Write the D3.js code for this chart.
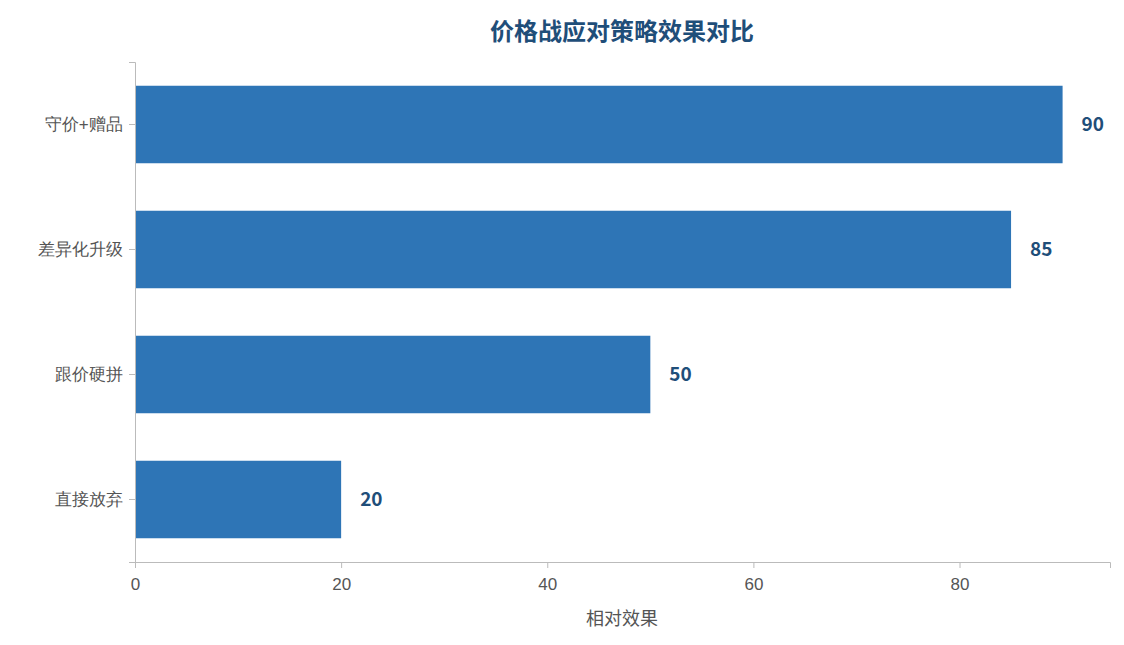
<!DOCTYPE html>
<html><head><meta charset="utf-8">
<script src="https://cdn.jsdelivr.net/npm/d3@7"></script>
<style>body{margin:0;background:#fff;font-family:"Noto Sans CJK SC","Noto Sans",sans-serif;}</style>
</head><body><svg id="c" width="1124" height="645"></svg>
<script>
const categories = ["守价+赠品","差异化升级","跟价硬拼","直接放弃"];
const values = [90,85,50,20];
const xTicks = [0,20,40,60,80];
const svg = d3.select("#c");
const m = {l:135, r:1110, t:62, b:562};
const x = d3.scaleLinear().domain([0,94.6]).range([m.l,m.r]);
const y = d3.scaleBand().domain(categories).range([m.t,m.b]).paddingInner(0.38).paddingOuter(0.19);
svg.append("text").attr("x",622).attr("y",40).attr("text-anchor","middle")
  .attr("font-size",24).attr("font-weight","bold").attr("fill","#1f4e79").text("价格战应对策略效果对比");
svg.selectAll("rect.bar").data(values).join("rect").attr("class","bar")
  .attr("x",x(0)).attr("y",(d,i)=>y(categories[i])).attr("width",d=>x(d)-x(0))
  .attr("height",y.bandwidth()).attr("fill","#2e75b6");
svg.selectAll("text.val").data(values).join("text").attr("class","val")
  .attr("x",d=>x(d)+19).attr("y",(d,i)=>y(categories[i])+y.bandwidth()/2).attr("dy","0.35em")
  .attr("font-size",19).attr("font-weight","bold").attr("fill","#1f4e79").text(d=>d);
const xa = svg.append("g").attr("transform",`translate(0,${m.b})`)
  .call(d3.axisBottom(x).tickValues(xTicks).tickSizeOuter(0).tickSize(6));
xa.selectAll("text").attr("font-size",17).attr("fill","#555").attr("dy","1.1em");
const ya = svg.append("g").attr("transform",`translate(${m.l},0)`)
  .call(d3.axisLeft(y).tickSizeOuter(0).tickSize(6));
ya.selectAll("text").attr("font-size",17).attr("fill","#555").attr("dx","-0.2em");
svg.selectAll(".domain,.tick line").attr("stroke","#bbb");
svg.append("text").attr("x",622).attr("y",625).attr("text-anchor","middle")
  .attr("font-size",18).attr("fill","#555").text("相对效果");
</script></body></html>
